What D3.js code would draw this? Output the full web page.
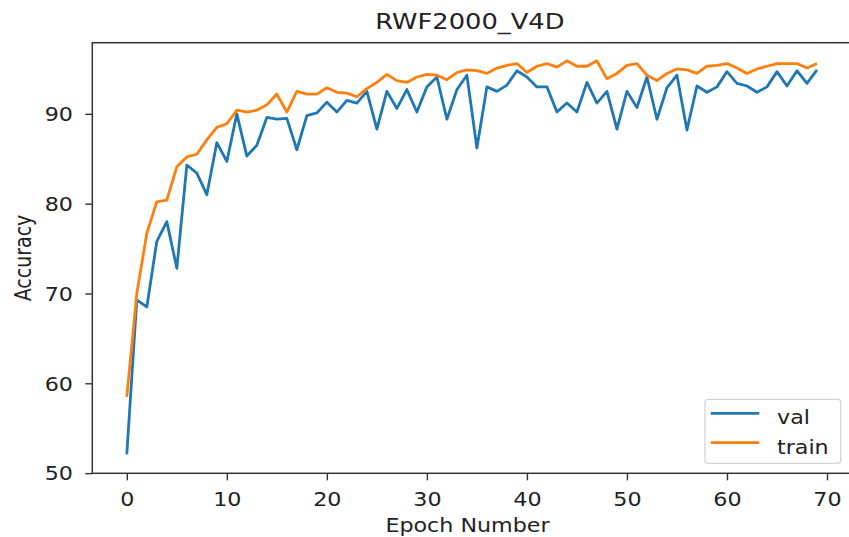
<!DOCTYPE html>
<html>
<head>
  <meta charset="UTF-8">
  <title>RWF2000_V4D</title>
  <style>
    body { margin: 0; background: #fff; }
    svg { display: block; }
    text { font-family: "DejaVu Sans", sans-serif; fill: #222; }
    .axis path.domain { display: none; }
    .axis line { stroke: #333; stroke-width: 1.4; }
  </style>
</head>
<body>
  <svg></svg>
  <script src="https://d3js.org/d3.v7.min.js"></script>
  <script>
    // values
    const titleText = "RWF2000_V4D";
    const seriesNames = ["val", "train"];
    const valAcc = [52.1, 69.3, 68.5, 75.8, 78.0, 72.8, 84.3, 83.4, 81.0, 86.8,
                    84.7, 90.0, 85.3, 86.5, 89.6, 89.4, 89.5, 86.0, 89.8, 90.1,
                    91.3, 90.2, 91.5, 91.2, 92.5, 88.3, 92.5, 90.6, 92.7, 90.2,
                    93.0, 94.1, 89.4, 92.7, 94.3, 86.2, 93.0, 92.5, 93.2, 94.8,
                    94.1, 93.0, 93.0, 90.2, 91.2, 90.2, 93.5, 91.2, 92.5, 88.3,
                    92.5, 90.7, 94.1, 89.4, 92.9, 94.3, 88.2, 93.1, 92.4, 93.0,
                    94.7, 93.4, 93.1, 92.4, 93.0, 94.7, 93.1, 94.8, 93.4, 94.9];
    const trainAcc = [58.5, 70.0, 76.7, 80.2, 80.4, 84.1, 85.2, 85.5, 87.1, 88.5,
                      88.9, 90.4, 90.2, 90.4, 91.0, 92.2, 90.2, 92.5, 92.2, 92.2,
                      92.9, 92.4, 92.3, 91.9, 92.8, 93.5, 94.4, 93.7, 93.5, 94.1,
                      94.4, 94.3, 93.8, 94.6, 94.9, 94.8, 94.5, 95.1, 95.4, 95.6,
                      94.6, 95.3, 95.6, 95.2, 95.9, 95.3, 95.3, 95.9, 93.9, 94.5,
                      95.4, 95.6, 94.3, 93.7, 94.5, 95.0, 94.9, 94.5, 95.3, 95.4,
                      95.6, 95.1, 94.5, 95.0, 95.3, 95.6, 95.6, 95.6, 95.1, 95.6];
    const xTicks = [0, 10, 20, 30, 40, 50, 60, 70];
    const yTicks = [50, 60, 70, 80, 90];
    const colors = ["#1f77b4", "#ff7f0e"];

    let width = 849, height = 537;
    let plotL = 92.3, plotR = 851.5, plotT = 42.7, plotB = 473.3;
    let stretch = 1.17; // picture is a bit wider than tall

    let svg = d3.select("svg")
        .attr("width", width)
        .attr("height", height);

    let x = d3.scaleLinear().domain([-3.45, 72.45]).range([plotL, plotR]);
    let y = d3.scaleLinear().domain([49.98, 97.92]).range([plotB, plotT]);

    // lines
    let line = d3.line()
        .x((d, i) => x(i))
        .y(d => y(d));
    [valAcc, trainAcc].forEach((s, k) => {
      svg.append("path")
          .datum(s)
          .attr("fill", "none")
          .attr("stroke", colors[k])
          .attr("stroke-width", 2.8)
          .attr("stroke-linejoin", "round")
          .attr("d", line);
    });

    // frame
    svg.append("rect")
        .attr("x", plotL).attr("y", plotT)
        .attr("width", plotR - plotL).attr("height", plotB - plotT)
        .attr("fill", "none")
        .attr("stroke", "#333")
        .attr("stroke-width", 1.5);

    // axes
    let xAxis = svg.append("g")
        .attr("class", "axis")
        .attr("transform", `translate(0,${plotB})`)
        .call(d3.axisBottom(x).tickValues(xTicks).tickSize(7).tickSizeOuter(0));
    xAxis.selectAll("text")
        .attr("y", 32.7).attr("dy", null)
        .attr("transform", `scale(${stretch},1)`)
        .style("font-size", "19px");

    let yAxis = svg.append("g")
        .attr("class", "axis")
        .attr("transform", `translate(${plotL},0)`)
        .call(d3.axisLeft(y).tickValues(yTicks).tickSize(7).tickSizeOuter(0));
    yAxis.selectAll("text")
        .attr("x", -19.3 / stretch).attr("dy", "0.36em")
        .attr("transform", `scale(${stretch},1)`)
        .style("font-size", "19px");

    // titles
    svg.append("text")
        .attr("transform", `translate(${(plotL + plotR) / 2 - 2},29.3) scale(${stretch},1)`)
        .attr("text-anchor", "middle")
        .style("font-size", "22px")
        .text(titleText);
    svg.append("text")
        .attr("transform", `translate(467.5,532) scale(${stretch},1)`)
        .attr("text-anchor", "middle")
        .style("font-size", "19px")
        .text("Epoch Number");
    svg.append("text")
        .attr("transform", `translate(31,${(plotT + plotB) / 2}) rotate(-90) scale(1,${stretch})`)
        .attr("text-anchor", "middle")
        .style("font-size", "19px")
        .text("Accuracy");

    // legend
    let legend = svg.append("g");
    legend.append("rect")
        .attr("x", 705).attr("y", 399.3)
        .attr("width", 135.7).attr("height", 64)
        .attr("rx", 3)
        .attr("fill", "#fff")
        .attr("stroke", "#d4d4d4")
        .attr("stroke-width", 1.3);
    seriesNames.forEach((name, k) => {
      let ly = 413.3 + k * 29.4;
      legend.append("line")
          .attr("x1", 710.7).attr("x2", 759.3)
          .attr("y1", ly).attr("y2", ly)
          .attr("stroke", colors[k])
          .attr("stroke-width", 2.8);
      legend.append("text")
          .attr("transform", `translate(777,${ly + 10.8}) scale(${stretch},1)`)
          .style("font-size", "19px")
          .text(name);
    });
  </script>
</body>
</html>
